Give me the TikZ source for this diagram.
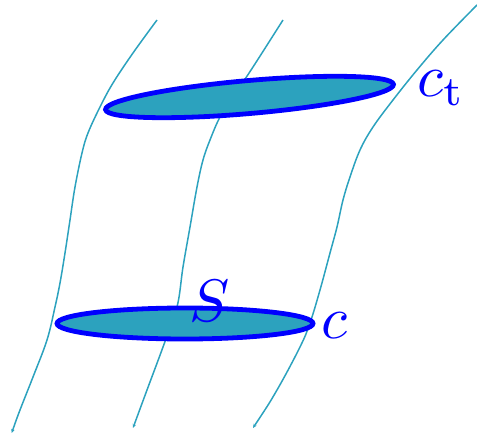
\documentclass[tikz,border=0pt]{standalone}
\usetikzlibrary{arrows.meta}
\definecolor{flowteal}{RGB}{44,162,190}
\definecolor{loopblue}{RGB}{0,0,255}
\newcommand{\biglab}[1]{\scalebox{6}{#1}}
\tikzset{
  flowline/.style={draw=flowteal, line width=1.5pt, {Stealth[length=4pt,width=3.5pt]}-},
  disc/.style={draw=loopblue, fill=flowteal, line width=4.8pt},
  lab/.style={text=loopblue, inner sep=0pt, anchor=base west}
}
\begin{document}
\begin{tikzpicture}[x=1pt,y=-1pt]
\useasboundingbox (0,0) rectangle (477,438);
% flow lines
\draw[flowline] plot[smooth, tension=0.6] coordinates {(11.7,433) (20,410) (33,377) (47,340) (55,307) (60,283) (65,253) (70,220) (75,187) (82,153) (88,133) (100,107) (113,83) (133,53) (157,20)};
\draw[flowline] plot[smooth, tension=0.6] coordinates {(133,428) (147,390) (163,347) (177,307) (183,267) (190,227) (197,187) (203,160) (210,140) (220,117) (233,97) (253,67) (283,20)};
\draw[flowline] plot[smooth, tension=0.6] coordinates {(253,428) (277,390) (300,347) (310,323) (320,290) (330,253) (337,227) (343,200) (350,177) (360,150) (373,127) (393,100) (417,70) (443,40) (477,5)};
% discs
\draw[disc, shift={(249.5,97)}, rotate=5] (0,0) ellipse [x radius=144.5pt, y radius=16.5pt];
\draw[disc, shift={(185,323.5)}] (0,0) ellipse [x radius=128pt, y radius=15.5pt];
% labels
\node[lab] (lct) at (417,97) {\biglab{$c_{\mathrm{t}}$}};
\node[lab] (lc) at (321,339) {\biglab{$c$}};
\node[lab] (lS) at (189,322) {\biglab{$S$}};
\end{tikzpicture}
\end{document}
